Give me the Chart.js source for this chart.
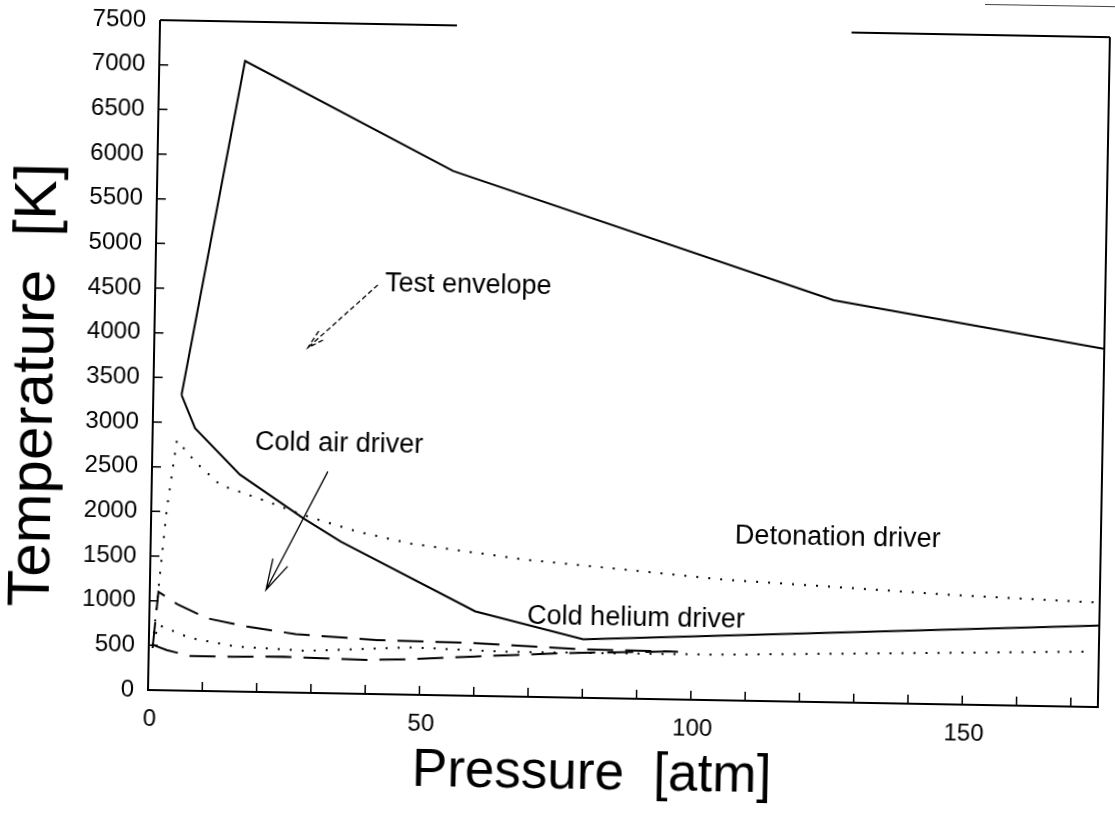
<!DOCTYPE html>
<html>
<head>
<meta charset="utf-8">
<title>Temperature vs pressure</title>
<script src="https://cdn.jsdelivr.net/npm/chart.js@4.4.0/dist/chart.umd.min.js"></script>
<style>
  html, body { margin: 0; padding: 0; background: #fff; overflow: hidden; }
  #chart { position: absolute; left: 0; top: 0; transform: rotate(1.03deg); transform-origin: 148px 690px; }
  #edge { position: absolute; left: 985px; top: 4px; width: 135px; height: 0; border-top: 1.5px solid #444; transform: rotate(1deg); transform-origin: 0 0; }
</style>
</head>
<body>
<div id="edge"></div>
<canvas id="chart" width="1115" height="817"></canvas>
<script>
// Test envelope, upper branch
const envelopeP = [5.2, 15.8, 54.5, 125, 175];
const envelopeT = [3310, 7060, 5870, 4500, 4010];
// Cold helium driver, lower solid branch
const heliumP = [5.2, 7.8, 16.2, 28, 35, 60, 80, 175];
const heliumT = [3310, 2940, 2430, 1955, 1700, 946, 655, 912];
// Detonation driver (dotted)
const detonationP = [0.7, 2.85, 4.5, 8.2, 12.6, 21.5, 28, 38, 48, 69, 106, 130, 148, 174.5];
const detonationT = [500, 2020, 2800, 2550, 2310, 2130, 1990, 1815, 1690, 1535, 1350, 1280, 1225, 1170];
// Cold air driver (dashed pair)
const airHighP = [0.7, 1.6, 5.3, 10.6, 18, 27, 42, 60, 79, 97.5];
const airHighT = [470, 1100, 960, 815, 730, 655, 605, 590, 545, 535];
const airLowP = [0.8, 3.3, 7.6, 15.6, 25, 33, 40, 47.5, 60, 76, 97.5];
const airLowT = [505, 450, 390, 390, 400, 390, 380, 395, 440, 495, 540];
// lower dotted curve
const lowDotP = [0.7, 1.7, 7.6, 16, 29, 48, 66, 105, 174];
const lowDotT = [500, 730, 590, 505, 470, 530, 500, 510, 620];

const xTickLabels = [0, 50, 100, 150];
const xMinorTicks = [10, 20, 30, 40, 50, 60, 70, 80, 90, 100, 110, 120, 130, 140, 150, 160, 170];
const yTickLabels = [0, 500, 1000, 1500, 2000, 2500, 3000, 3500, 4000, 4500, 5000, 5500, 6000, 6500, 7000, 7500];

// text labels and arrows, in data units
const notes = [
  { text: 'Test envelope', p: 42.3, t: 4600 },
  { text: 'Cold air driver', p: 18.9, t: 2790 },
  { text: 'Detonation driver', p: 107.6, t: 1840 },
  { text: 'Cold helium driver', p: 69.6, t: 895 }
];
const arrows = [
  { from: [41.0, 4580], to: [28.3, 3862], dash: [5, 3], head: 20 },
  { from: [32.4, 2481], to: [21.4, 1144], dash: [], head: 32 }
];

const FONT = '"Liberation Sans", Arial, sans-serif';

function toPoints(ps, ts) {
  return ps.map((p, i) => ({ x: p, y: ts[i] }));
}

function series(ps, ts, dash) {
  return {
    data: toPoints(ps, ts),
    borderColor: '#000',
    borderWidth: 2,
    borderDash: dash,
    borderCapStyle: 'butt',
    pointRadius: 0,
    tension: 0,
    fill: false
  };
}

// frame, inward ticks, tick labels, axis titles and the annotations
const decorations = {
  id: 'decorations',
  afterDraw(chart) {
    const ctx = chart.ctx;
    const xs = chart.scales.x, ys = chart.scales.y;
    const a = chart.chartArea;
    const px = v => xs.getPixelForValue(v);
    const py = v => ys.getPixelForValue(v);

    ctx.save();
    ctx.strokeStyle = '#000';
    ctx.lineWidth = 2;
    ctx.setLineDash([]);

    // left, bottom, right sides
    ctx.beginPath();
    ctx.moveTo(a.left, a.top);
    ctx.lineTo(a.left, a.bottom);
    ctx.lineTo(a.right, a.bottom);
    ctx.lineTo(a.right, a.top);
    ctx.stroke();
    // top side has a gap in the middle
    ctx.beginPath();
    ctx.moveTo(a.left, a.top);
    ctx.lineTo(px(54.7), a.top);
    ctx.moveTo(px(127.4), a.top);
    ctx.lineTo(a.right, a.top);
    ctx.stroke();

    // inward tick marks
    ctx.lineWidth = 1.5;
    ctx.beginPath();
    xMinorTicks.forEach(v => {
      ctx.moveTo(px(v), a.bottom);
      ctx.lineTo(px(v), a.bottom - 9);
    });
    yTickLabels.forEach(v => {
      if (v === 0 || v === 7500) return;
      ctx.moveTo(a.left, py(v));
      ctx.lineTo(a.left + 9, py(v));
    });
    ctx.stroke();

    // tick labels
    ctx.fillStyle = '#000';
    ctx.font = '24px ' + FONT;
    ctx.textBaseline = 'middle';
    ctx.textAlign = 'right';
    yTickLabels.forEach(v => ctx.fillText(String(v), a.left - 14, py(v)));
    ctx.textAlign = 'center';
    xTickLabels.forEach(v => ctx.fillText(String(v), px(v) + 2, a.bottom + 29));

    // axis titles
    ctx.font = '53px ' + FONT;
    ctx.fillText('Pressure  [atm]', 593, 766);
    ctx.save();
    ctx.translate(30, 387);
    ctx.rotate(-Math.PI / 2);
    ctx.font = '60px ' + FONT;
    ctx.fillText('Temperature  [K]', 0, 0);
    ctx.restore();

    // annotations
    ctx.font = '27px ' + FONT;
    ctx.textAlign = 'left';
    notes.forEach(n => ctx.fillText(n.text, px(n.p), py(n.t)));

    ctx.lineWidth = 1.3;
    arrows.forEach(ar => {
      const x1 = px(ar.from[0]), y1 = py(ar.from[1]);
      const x2 = px(ar.to[0]), y2 = py(ar.to[1]);
      const ang = Math.atan2(y1 - y2, x1 - x2);
      const spread = 15 * Math.PI / 180;
      ctx.setLineDash(ar.dash);
      ctx.beginPath();
      ctx.moveTo(x1, y1);
      ctx.lineTo(x2, y2);
      ctx.moveTo(x2 + ar.head * Math.cos(ang - spread), y2 + ar.head * Math.sin(ang - spread));
      ctx.lineTo(x2, y2);
      ctx.lineTo(x2 + ar.head * Math.cos(ang + spread), y2 + ar.head * Math.sin(ang + spread));
      ctx.stroke();
    });
    ctx.restore();
  }
};

new Chart(document.getElementById('chart'), {
  type: 'line',
  data: {
    datasets: [
      series(envelopeP, envelopeT, []),
      series(heliumP, heliumT, []),
      series(detonationP, detonationT, [2, 10]),
      series(airHighP, airHighT, [26, 12]),
      series(airLowP, airLowT, [26, 12]),
      series(lowDotP, lowDotT, [2, 10])
    ]
  },
  options: {
    responsive: false,
    animation: false,
    layout: { padding: { top: 20, right: 17, left: 0, bottom: 0 } },
    plugins: { legend: { display: false }, tooltip: { enabled: false } },
    scales: {
      x: {
        type: 'linear',
        min: 0,
        max: 175,
        afterFit: s => { s.height = 127; },
        ticks: { display: false },
        grid: { display: false },
        border: { display: false }
      },
      y: {
        min: 0,
        max: 7500,
        afterFit: s => { s.width = 148; },
        ticks: { display: false },
        grid: { display: false },
        border: { display: false }
      }
    }
  },
  plugins: [decorations]
});
</script>
</body>
</html>
